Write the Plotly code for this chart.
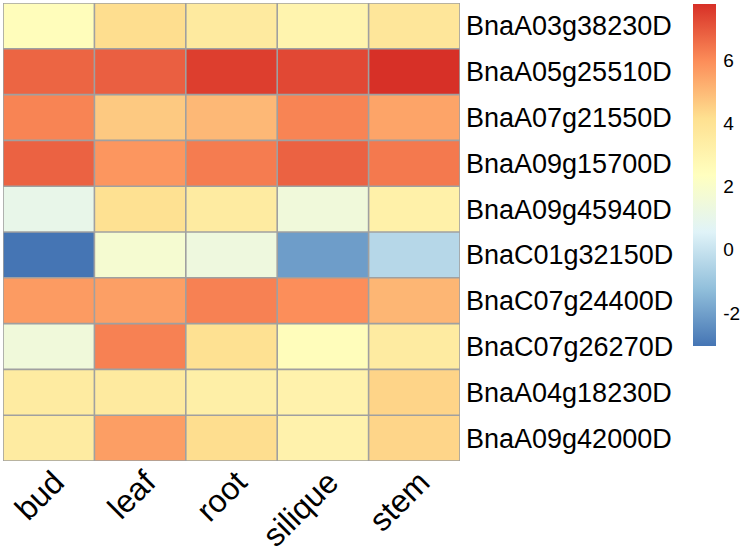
import plotly.graph_objects as go

genes = ["BnaA03g38230D", "BnaA05g25510D", "BnaA07g21550D", "BnaA09g15700D",
         "BnaA09g45940D", "BnaC01g32150D", "BnaC07g24400D", "BnaC07g26270D",
         "BnaA04g18230D", "BnaA09g42000D"]
tissues = ["bud", "leaf", "root", "silique", "stem"]

bud     = [2.5, 6.75, 6.15, 6.8, 1.03, -3.04, 5.67, 1.5, 3.5, 3.5]
leaf    = [4.2, 6.85, 4.67, 5.77, 4.1, 1.79, 5.58, 6.2, 3.6, 5.6]
root    = [3.6, 7.5, 5.03, 6.3, 3.5, 1.38, 6.2, 4.1, 3.3, 4.2]
silique = [3.0, 7.3, 6.15, 6.8, 1.5, -2.07, 5.95, 2.5, 3.1, 3.1]
stem    = [3.8, 7.77, 5.47, 6.35, 3.2, -0.4, 5.08, 3.5, 4.43, 4.4]

cbar_ticks = [-2, 0, 2, 4, 6]
cbar_labels = ["-2", "0", "2", "4", "6"]

palette = ["#4575B4", "#91BFDB", "#E0F3F8", "#FFFFBF", "#FEE090", "#FC8D59", "#D73027"]
colorscale = [[i / (len(palette) - 1), c] for i, c in enumerate(palette)]

cols = [bud, leaf, root, silique, stem]
z = [[cols[j][i] for j in range(len(tissues))] for i in range(len(genes))]

FONT = "Liberation Sans, Arial, sans-serif"

fig = go.Figure(go.Heatmap(
    z=z,
    x=list(range(len(tissues))),
    y=list(range(len(genes))),
    colorscale=colorscale,
    colorbar=dict(
        tickvals=cbar_ticks,
        ticktext=cbar_labels,
        ticks="outside",
        ticklen=4,
        tickcolor="rgba(0,0,0,0)",
        outlinewidth=0,
        thickness=23,
        lenmode="pixels",
        len=342,
        x=(693 - 3) / 457,
        xanchor="left",
        y=(461 - 175) / 458,
        yanchor="middle",
        xpad=0, ypad=0,
        ticklabelposition="outside",
        tickfont=dict(family=FONT, size=19, color="#000000"),
    ),
    hoverinfo="skip",
))

shapes = []
grid = dict(color="#A0A0A0", width=1.6)
for k in range(len(tissues) + 1):
    shapes.append(dict(type="line", xref="x", yref="y", x0=k - 0.5, x1=k - 0.5,
                       y0=-0.5, y1=len(genes) - 0.5, line=grid))
for k in range(len(genes) + 1):
    shapes.append(dict(type="line", xref="x", yref="y", y0=k - 0.5, y1=k - 0.5,
                       x0=-0.5, x1=len(tissues) - 0.5, line=grid))

fig.update_layout(
    width=745, height=551,
    margin=dict(l=3, r=285, t=3, b=90, autoexpand=False),
    paper_bgcolor="white", plot_bgcolor="white",
    shapes=shapes,
    xaxis=dict(
        range=[-0.5, len(tissues) - 0.5],
        tickvals=list(range(len(tissues))), ticktext=tissues,
        tickangle=-45, ticks="", showgrid=False, zeroline=False,
        automargin=False,
        ticklabelstandoff=-5,
        ticklabelshift=6,
        tickfont=dict(family=FONT, size=32, color="#000000"),
    ),
    yaxis=dict(
        range=[len(genes) - 0.5, -0.5],
        tickvals=list(range(len(genes))), ticktext=genes,
        side="right", ticks="", showgrid=False, zeroline=False,
        automargin=False,
        ticklabelstandoff=5,
        tickfont=dict(family=FONT, size=27, color="#000000"),
    ),
)

fig.write_html("out.html",
               config={"displayModeBar": False},
               post_script="document.body.style.margin='0';document.body.style.overflow='hidden';")
